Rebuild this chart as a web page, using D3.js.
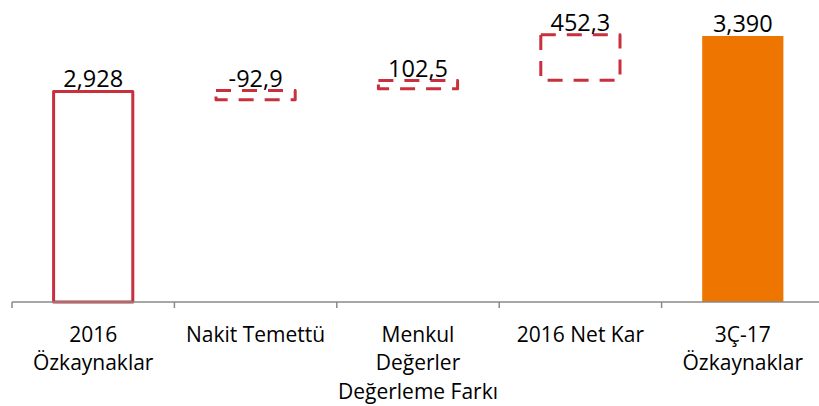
<!DOCTYPE html>
<html>
<head>
<meta charset="utf-8">
<script src="https://cdn.jsdelivr.net/npm/d3@7"></script>
<style>
  html, body { margin: 0; padding: 0; background: #fff; }
  text { font-family: "Open Sans", sans-serif; fill: #000; }
</style>
</head>
<body>
<script>
// data
const categories = ["2016 Özkaynaklar", "Nakit Temettü", "Menkul Değerler Değerleme Farkı", "2016 Net Kar", "3Ç-17 Özkaynaklar"];
const category_lines = [["2016", "Özkaynaklar"], ["Nakit Temettü"], ["Menkul", "Değerler", "Değerleme Farkı"], ["2016 Net Kar"], ["3Ç-17", "Özkaynaklar"]];
const value_labels = ["2,928", "-92,9", "102,5", "452,3", "3,390"];
const kinds = ["total", "step", "step", "step", "total"];
// column bottoms / tops as drawn (axis units)
const col_low = [1175, 2859, 2950, 3022, 1175];
const col_high = [2928, 2936, 3019, 3400, 3390];

const WIDTH = 819, HEIGHT = 406;
const AXIS_Y = 302;
const RED = "#c8303d";
const ORANGE = "#ee7600";

const svg = d3.select("body").append("svg")
    .attr("width", WIDTH)
    .attr("height", HEIGHT);

const x = d3.scaleBand()
    .domain(categories)
    .range([12, 824])
    .paddingInner(0.5)
    .paddingOuter(0.25);

const y = d3.scaleLinear()
    .domain([1175, 3390])
    .range([AXIS_Y, 36]);

const rows = categories.map((c, i) => ({
    cat: c, low: col_low[i], high: col_high[i], kind: kinds[i], label: value_labels[i], lines: category_lines[i], last: i === categories.length - 1
}));

// columns
svg.append("g").selectAll("rect")
    .data(rows)
    .join("rect")
    .attr("x", d => x(d.cat) + (d.last ? 0 : 1))
    .attr("width", d => x.bandwidth() - (d.last ? 0 : 2))
    .attr("y", d => y(d.high))
    .attr("height", d => y(d.low) - y(d.high))
    .attr("fill", d => d.last ? ORANGE : "none")
    .attr("stroke", d => d.last ? "none" : RED)
    .attr("stroke-width", 3)
    .attr("stroke-linejoin", "round")
    .attr("stroke-dasharray", d => d.kind === "step" ? "15,11" : null);

// axis line with ticks between categories
const step = x.step();
const boundaries = d3.range(categories.length + 1).map(i => 12 + i * step);
const axis = svg.append("g").attr("stroke", "#8a8a8a").attr("stroke-width", 1.5);
axis.append("line")
    .attr("x1", 12).attr("x2", WIDTH)
    .attr("y1", AXIS_Y).attr("y2", AXIS_Y);
axis.selectAll("line.tick")
    .data(boundaries)
    .join("line")
    .attr("class", "tick")
    .attr("x1", d => d).attr("x2", d => d)
    .attr("y1", AXIS_Y).attr("y2", AXIS_Y + 6);

// value labels
svg.append("g").selectAll("text")
    .data(rows)
    .join("text")
    .attr("x", d => x(d.cat) + x.bandwidth() / 2)
    .attr("y", d => y(d.high) - 4)
    .attr("text-anchor", "middle")
    .style("font-size", "23.5px")
    .text(d => d.label);

// category labels
const cat_labels = svg.append("g").selectAll("text")
    .data(rows)
    .join("text")
    .attr("text-anchor", "middle")
    .style("font-size", "21px");

cat_labels.selectAll("tspan")
    .data(d => d.lines.map(line => ({line, cx: x(d.cat) + x.bandwidth() / 2})))
    .join("tspan")
    .attr("x", d => d.cx)
    .attr("y", (d, i) => 341.5 + i * 28.5)
    .text(d => d.line);
</script>
</body>
</html>
